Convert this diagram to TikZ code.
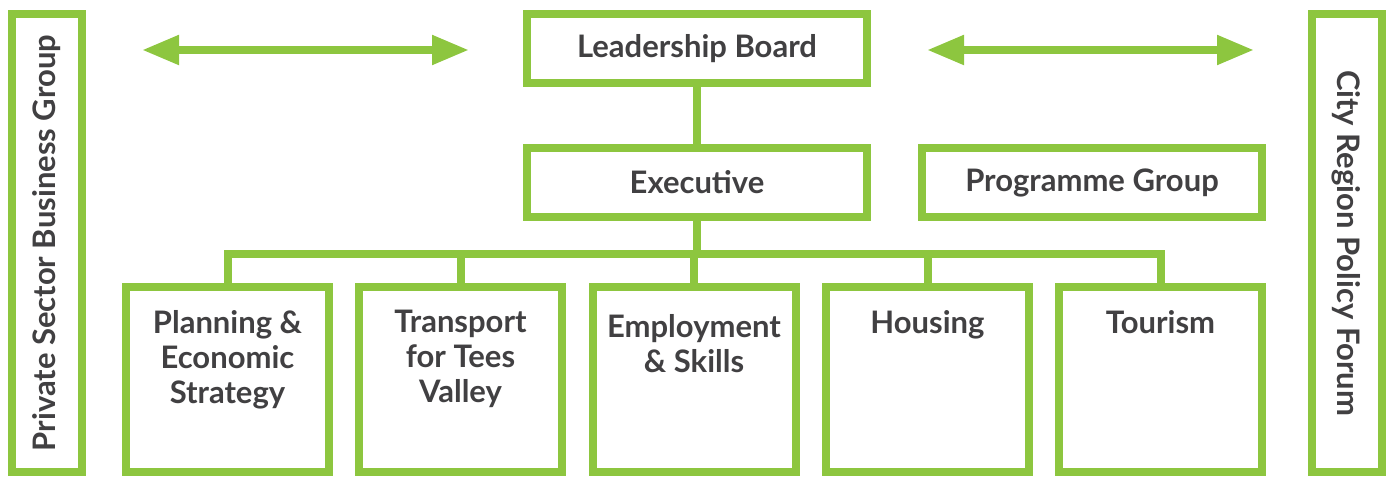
\documentclass[tikz,border=0pt]{standalone}
\usepackage{fontspec}
\setmainfont{Lato}
\usepackage{tikz}
\usetikzlibrary{calc}
\usetikzlibrary{arrows.meta}
\definecolor{tvgreen}{HTML}{8DC63F}
\definecolor{tvgrey}{HTML}{414042}

\begin{document}
\begin{tikzpicture}[x=1pt,y=-1pt,
  box/.style={draw=tvgreen, line width=8pt, fill=white, inner sep=0pt, text=tvgrey, font=\fontsize{31}{35}\selectfont\bfseries},
  topbox/.style={box, minimum width=340pt, minimum height=69pt},
  unit/.style={box, minimum width=203pt, minimum height=185pt},
  unittext/.style={anchor=north, align=center, inner sep=0pt, text=tvgrey, font=\fontsize{31}{35}\selectfont\bfseries},
  side/.style={box, minimum width=458pt, minimum height=70pt},
  link/.style={draw=tvgreen, line width=8pt},
  dblarrow/.style={draw=tvgreen, line width=8pt, {Triangle[length=37pt,width=28pt]}-{Triangle[length=37pt,width=28pt]}}]
  \useasboundingbox (0,0) rectangle (1389,478);

  \coordinate (la) at (142,50);
  \coordinate (lb) at (469,50);
  \coordinate (ra) at (927,50);
  \coordinate (rb) at (1254,50);
  \coordinate (bus) at (697,254);

\node[side, rotate=90] (psg) at (47,243) {Private Sector Business Group}; % left side
\node[side, rotate=-90] (crpf) at (1346.5,243) {City Region Policy Forum}; % right side

\node[topbox] (lead) at (697,48.5) {Leadership Board};
\node[topbox] (exec) at (697,182.5) {Executive};
\node[topbox] (prog) at (1092,182.5) {Programme Group};

\node[unit] (plan) at (227.5,379.5) {};
\node[unit] (trans) at (460.5,379.5) {};
\node[unit] (empl) at (694,379.5) {};
\node[unit] (hous) at (927.5,379.5) {};
\node[unit] (tour) at (1160.5,379.5) {};

\node[unittext] (plantxt) at ($(plan.north)+(0,27)$) {Planning \&\\Economic\\Strategy};
\node[unittext] (transtxt) at ($(trans.north)+(0,27)$) {Transport\\for Tees\\Valley};
\node[unittext] (empltxt) at ($(empl.north)+(0,31)$) {Employment\\\& Skills};
\node[unittext] (houstxt) at ($(hous.north)+(0,27)$) {Housing};
\node[unittext] (tourtxt) at ($(tour.north)+(0,27)$) {Tourism};

\draw[dblarrow] (la) -- (lb); % left arrow
\draw[dblarrow] (ra) -- (rb); % right arrow

\draw[link] (lead.south) -- (exec.north);
\draw[link] (exec.south) -- (exec.south |- bus);
\draw[link] (plan.north) |- (bus) -| (tour.north); % bus
\draw[link] (trans.north) -- (trans.north |- bus);
\draw[link] (empl.north) -- (empl.north |- bus);
\draw[link] (hous.north) -- (hous.north |- bus);

\end{tikzpicture}
\end{document}
